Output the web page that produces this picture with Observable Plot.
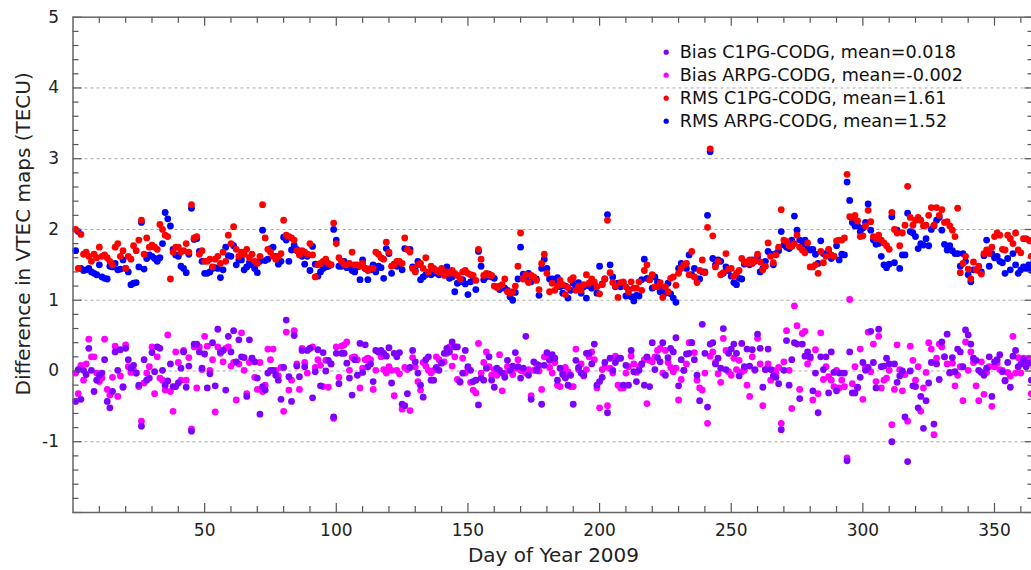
<!DOCTYPE html>
<html><head><meta charset="utf-8">
<script src="https://cdn.jsdelivr.net/npm/d3@7"></script>
<script src="https://cdn.jsdelivr.net/npm/@observablehq/plot@0.6"></script>
<style>
html,body{margin:0;padding:0;background:#fff;overflow:hidden;}
#chart svg{display:block;}
</style></head><body><div id="chart"></div>
<script>
// Day of year 1..365
const days = d3.range(1, 366);

const biasC1PG = [
-0.43,0.02,-0.40,0.01,-0.05,0.32,0.01,-0.29,-0.13,-0.06,
-0.03,0.16,-0.43,-0.52,-0.29,0.27,0.01,0.30,-0.23,0.32,
0.16,0.04,0.08,-0.03,-0.20,-0.78,0.16,-0.13,-0.10,0.26,
-0.01,0.34,0.32,0.01,-0.20,-0.14,0.10,-0.22,-0.22,-0.17,
0.04,0.27,-0.23,0.07,-0.85,0.38,0.38,0.27,0.04,0.24,
-0.24,-0.04,0.40,-0.21,0.59,0.27,0.29,-0.27,0.49,0.27,
0.57,0.13,0.44,0.20,0.19,-0.36,0.44,0.18,0.13,-0.10,
-0.61,-0.22,-0.27,-0.03,0.01,0.01,-0.06,-0.13,-0.40,0.05,
0.72,-0.08,-0.43,0.50,0.07,-0.08,0.29,0.06,0.29,0.32,
-0.38,-0.01,0.30,-0.21,0.26,0.00,0.15,0.10,-0.65,0.25,
-0.18,0.25,0.25,0.11,-0.10,-0.34,0.16,-0.06,0.39,-0.02,
0.37,0.06,0.10,-0.15,0.29,0.27,0.29,0.25,0.21,0.33,
-0.17,0.25,0.20,0.26,-0.47,-0.49,-0.32,0.05,0.29,0.13,
-0.03,-0.20,-0.37,0.16,0.20,-0.13,-0.13,0.05,0.01,0.11,
0.25,0.32,0.27,0.41,0.34,0.34,-0.15,-0.03,0.29,0.06,
0.01,-0.15,-0.13,-0.48,-0.10,-0.13,0.04,0.20,-0.13,-0.23,
0.04,0.01,-0.03,-0.09,0.15,0.01,0.07,0.26,0.06,-0.10,
0.04,0.49,-0.06,-0.40,0.13,0.01,0.08,-0.47,0.08,0.26,
0.15,0.23,0.18,-0.13,0.04,-0.05,-0.10,-0.20,-0.06,-0.47,
0.15,0.05,-0.03,-0.06,0.25,0.25,0.10,0.38,-0.20,-0.15,
-0.09,0.12,-0.59,0.18,0.01,0.12,0.18,0.18,-0.20,0.08,
-0.20,0.29,-0.01,-0.15,0.01,0.10,-0.20,0.20,-0.22,0.40,
0.02,0.19,0.13,0.40,-0.06,0.19,0.32,0.27,0.47,-0.21,
0.16,0.01,0.24,0.25,0.40,0.16,-0.06,-0.42,0.66,0.25,
-0.51,0.38,0.40,0.10,0.18,0.04,0.60,0.02,0.25,0.31,
0.38,0.25,-0.07,0.39,0.06,0.31,0.07,0.30,0.02,0.52,
0.32,-0.23,0.02,0.31,0.02,-0.07,-0.09,-0.18,-0.83,0.01,
0.43,-0.20,0.16,0.40,0.38,-0.39,0.38,0.21,0.27,0.20,
-0.28,-0.03,-0.59,0.20,0.02,0.20,-0.31,0.27,-0.02,-0.28,
-0.03,-0.03,-0.03,-1.27,0.27,-0.31,-0.31,-0.23,-0.09,0.12,
0.01,0.05,0.56,0.12,-0.24,0.59,0.06,0.07,0.18,0.10,
-1.00,0.10,-0.16,-0.07,0.00,-0.65,-1.28,0.00,-0.21,-0.22,
-0.52,-0.36,-0.81,-0.42,-0.17,0.12,-0.75,0.10,-0.12,0.41,
0.20,0.52,-0.02,0.19,-0.01,0.31,0.27,0.06,0.58,0.51,
0.38,0.18,0.15,0.01,-0.02,-0.06,0.04,0.20,-0.36,0.13,
0.16,0.23,-0.01,-0.14,0.12,-0.23,0.21,0.29,0.06,0.10,
0.16,0.06,0.11,-0.13,0.05];

const biasARPG = [
-0.03,-0.32,0.08,-0.13,0.10,0.45,0.20,0.20,-0.03,-0.15,
-0.10,0.45,-0.26,-0.34,-0.09,0.35,-0.36,-0.07,-0.22,0.37,
0.06,-0.02,0.01,-0.03,-0.22,-0.71,-0.17,-0.03,0.06,0.34,
-0.32,0.20,-0.10,-0.13,-0.27,0.51,-0.29,-0.57,0.27,0.12,
-0.13,0.29,-0.13,0.19,-0.82,0.34,-0.24,0.34,0.02,0.49,
0.35,0.01,0.16,-0.58,0.34,0.25,0.13,0.32,0.34,0.07,
0.12,-0.41,0.10,0.54,0.01,-0.32,0.12,0.18,-0.09,-0.26,
0.12,-0.29,-0.20,0.31,0.16,0.31,0.01,-0.07,0.05,-0.57,
0.55,-0.27,-0.13,0.57,0.10,-0.26,0.32,0.12,-0.03,0.32,
0.34,0.05,0.16,0.08,-0.22,0.15,-0.23,0.10,-0.67,0.34,
-0.09,0.35,0.37,0.41,0.01,0.19,0.20,0.16,-0.24,0.04,
0.16,0.18,0.16,-0.26,0.01,0.27,0.20,0.02,-0.03,0.06,
0.01,-0.35,0.01,-0.04,-0.54,0.05,0.02,-0.56,0.19,0.06,
-0.15,-0.27,0.12,0.07,0.01,-0.03,0.01,0.20,0.16,0.12,
0.13,0.25,0.34,0.07,0.20,-0.12,-0.16,0.18,-0.03,0.04,
-0.16,-0.27,-0.31,0.39,-0.03,0.12,0.27,0.06,-0.06,0.02,
-0.06,0.23,-0.28,-0.03,0.06,0.01,-0.05,0.04,0.16,0.01,
0.00,-0.03,0.02,-0.35,0.01,0.10,0.00,-0.26,0.20,0.20,
0.05,-0.03,0.12,-0.20,-0.22,-0.02,0.05,-0.01,-0.22,-0.22,
0.31,0.02,0.10,-0.07,0.02,0.20,0.27,0.16,-0.24,-0.52,
0.02,0.05,-0.49,0.04,-0.03,0.21,-0.20,-0.24,-0.24,-0.03,
0.06,0.21,0.10,-0.02,0.06,0.09,0.16,-0.46,0.15,0.13,
0.20,0.29,0.32,-0.03,0.29,0.12,0.05,-0.01,0.04,-0.41,
-0.12,0.01,0.10,0.40,0.40,0.26,-0.13,-0.24,-0.27,-0.03,
-0.74,0.21,0.27,0.12,-0.04,-0.16,0.46,0.29,-0.01,-0.06,
0.18,0.02,0.15,-0.01,0.01,-0.20,-0.36,0.20,0.01,0.46,
0.10,-0.49,0.02,0.10,-0.13,0.01,-0.03,0.05,-0.74,0.13,
0.57,0.01,-0.53,0.92,0.64,-0.26,0.53,0.56,0.10,0.18,
-0.41,0.30,-0.32,0.54,-0.12,0.06,-0.08,-0.13,-0.22,0.01,
-0.24,-0.13,-0.22,-1.23,1.01,-0.18,0.06,-0.24,0.31,-0.40,
0.05,0.55,-0.01,0.38,-0.15,0.49,-0.24,-0.13,-0.10,0.01,
-0.76,-0.26,0.37,0.02,-0.28,-0.05,-0.71,0.35,0.15,-0.13,
0.06,-0.57,-0.24,-0.02,0.40,0.31,-0.90,0.18,0.38,0.34,
0.20,0.10,-0.03,0.11,-0.21,-0.06,0.06,-0.42,0.41,0.01,
0.27,0.12,-0.21,-0.42,0.13,-0.33,-0.02,0.06,-0.50,0.06,
0.11,0.02,0.01,-0.13,-0.02,-0.07,0.49,-0.03,0.19,-0.03,
0.18,0.13,0.18,-0.32,0.10];

const rmsC1PG = [
2.00,1.45,1.93,1.65,1.68,1.62,1.55,1.65,1.60,1.75,
1.62,1.64,1.60,1.55,1.50,1.75,1.80,1.62,1.70,1.45,
1.62,1.58,1.77,1.70,1.85,2.13,1.65,1.88,1.75,1.78,
1.75,1.72,2.07,2.00,1.92,1.90,1.30,1.68,1.75,1.75,
1.68,1.70,1.80,1.68,2.35,1.88,1.90,1.65,1.70,1.55,
1.55,1.58,1.47,1.58,1.62,1.52,1.68,1.55,1.92,1.80,
2.04,1.72,1.62,1.68,1.65,1.72,1.60,1.65,1.55,1.52,
1.62,2.35,1.88,1.72,1.68,1.62,1.58,1.62,1.66,2.13,
1.92,1.90,1.88,1.85,1.70,1.64,1.70,1.68,1.65,1.80,
1.64,1.33,1.50,1.52,1.55,1.58,1.52,1.50,2.09,1.80,
1.60,1.55,1.50,1.50,1.52,1.68,1.50,1.50,1.48,1.52,
1.45,1.42,1.45,1.45,1.68,1.65,1.60,1.58,1.82,1.68,
1.48,1.50,1.55,1.55,1.52,1.88,1.72,1.68,1.45,1.40,
1.50,1.52,1.45,1.60,1.40,1.48,1.45,1.42,1.40,1.45,
1.35,1.40,1.38,1.42,1.38,1.35,1.30,1.40,1.42,1.38,
1.36,1.35,1.28,1.72,1.58,1.35,1.38,1.36,1.35,1.20,
1.18,1.20,1.22,1.30,1.12,1.10,1.12,1.20,1.48,1.95,
1.30,1.36,1.25,1.35,1.33,1.28,1.15,1.52,1.65,1.38,
1.12,1.24,1.14,1.20,1.28,1.22,1.08,1.18,1.29,1.32,
1.14,1.20,1.14,1.22,1.36,1.24,1.30,1.26,1.19,1.09,
1.22,1.30,2.13,1.39,1.25,1.20,1.04,1.25,1.26,1.19,
1.12,1.26,1.17,1.17,1.26,1.14,1.42,1.50,1.29,1.36,
1.19,1.19,1.25,1.04,1.19,1.12,1.31,1.33,1.21,1.38,
1.45,1.50,1.52,1.36,1.69,1.33,1.25,1.42,1.57,1.39,
2.03,3.14,1.91,1.47,1.55,1.36,1.39,1.66,1.44,1.45,
1.34,1.38,1.42,1.59,1.54,1.52,1.57,1.52,1.57,1.65,
1.54,1.43,1.48,1.81,1.62,1.53,1.64,1.75,2.28,1.85,
1.83,1.77,1.76,1.80,1.92,1.75,1.71,1.67,1.81,1.47,
1.47,1.50,1.38,1.69,1.53,1.62,1.72,1.64,1.62,1.84,
1.85,1.85,1.88,2.78,2.18,2.17,2.20,2.12,1.90,1.91,
2.05,2.27,2.11,1.90,1.87,1.92,1.85,1.81,1.77,1.72,
2.24,2.00,1.95,1.77,1.95,2.06,2.61,2.17,2.06,2.13,
2.17,2.13,2.05,2.06,2.20,2.31,2.06,2.31,2.20,2.28,
2.10,2.11,2.05,1.99,1.90,2.30,1.39,1.52,1.62,1.44,
1.30,1.54,1.43,1.48,1.37,1.66,1.71,1.66,1.75,1.90,
1.95,1.92,1.72,1.71,1.92,1.87,1.80,1.95,1.71,1.67,
1.87,1.87,1.85,1.62,1.80];

const rmsARPG = [
1.70,1.97,1.45,1.42,1.43,1.45,1.40,1.38,1.36,1.50,
1.33,1.31,1.30,1.48,1.47,1.52,1.43,1.44,1.57,1.45,
1.40,1.22,1.24,1.25,1.47,2.10,1.44,1.59,1.64,1.62,
1.59,1.55,1.60,1.80,2.24,2.15,2.05,1.72,1.64,1.62,
1.48,1.45,1.39,1.65,2.30,1.86,1.87,1.69,1.55,1.38,
1.38,1.40,1.45,1.46,1.45,1.32,1.43,1.75,1.63,1.62,
1.77,1.50,1.57,1.57,1.43,1.47,1.53,1.50,1.45,1.39,
1.55,1.99,1.56,1.58,1.73,1.75,1.62,1.51,1.55,1.89,
1.85,1.55,1.71,1.78,1.72,1.66,1.62,1.51,1.62,1.42,
1.76,1.51,1.34,1.40,1.45,1.47,1.48,1.50,2.00,1.85,
1.48,1.48,1.55,1.46,1.50,1.42,1.40,1.47,1.29,1.57,
1.45,1.29,1.43,1.50,1.40,1.48,1.46,1.31,1.73,1.66,
1.38,1.51,1.48,1.50,1.43,1.73,1.72,1.72,1.47,1.42,
1.55,1.29,1.33,1.36,1.38,1.36,1.39,1.38,1.36,1.42,
1.40,1.47,1.31,1.33,1.12,1.24,1.26,1.29,1.23,1.08,
1.26,1.29,1.15,1.69,1.48,1.29,1.33,1.37,1.33,1.31,
1.19,1.15,1.19,1.17,1.14,1.05,1.00,1.11,1.30,1.75,
1.37,1.30,1.38,1.26,1.31,1.30,1.07,1.45,1.58,1.45,
1.30,1.30,1.26,1.32,1.19,1.10,1.20,1.03,1.14,1.24,
1.19,1.25,1.10,1.19,1.03,1.20,1.17,1.22,1.10,1.48,
1.23,1.30,2.21,1.50,1.33,1.19,1.24,1.19,1.24,1.06,
1.15,1.05,0.99,1.07,1.06,1.29,1.58,1.31,1.29,1.17,
1.33,1.26,1.12,1.17,1.10,1.24,1.09,1.03,0.97,1.45,
1.52,1.50,1.45,1.64,1.36,1.45,1.30,1.30,1.40,1.40,
2.20,3.10,1.59,1.50,1.57,1.55,1.38,1.47,1.42,1.34,
1.25,1.22,1.31,1.30,1.51,1.52,1.50,1.57,1.55,1.61,
1.40,1.45,1.55,1.69,1.65,1.50,1.66,1.70,1.97,1.78,
1.75,1.73,1.85,2.19,1.99,1.85,1.77,1.85,1.73,1.71,
1.72,1.65,1.52,1.84,1.66,1.63,1.70,1.59,1.62,1.77,
1.57,1.65,1.64,2.67,2.41,2.10,2.05,2.05,1.97,2.02,
2.10,2.36,1.99,1.85,1.79,1.80,1.62,1.50,1.46,1.51,
2.18,1.53,1.99,1.45,1.64,1.64,2.23,1.97,1.95,1.90,
1.73,1.80,1.78,1.87,1.77,2.00,2.05,2.13,2.17,1.99,
1.79,1.71,1.77,1.70,1.66,1.66,1.48,1.66,1.55,1.36,
1.26,1.43,1.43,1.42,1.40,1.63,1.85,1.48,1.66,1.60,
1.62,1.55,1.53,1.38,1.59,1.43,1.66,1.50,1.38,1.43,
1.47,1.45,1.50,1.42,1.55];

const seriesNames = ["Bias C1PG-CODG, mean=0.018","Bias ARPG-CODG, mean=-0.002","RMS C1PG-CODG, mean=1.61","RMS ARPG-CODG, mean=1.52"];
const seriesColors = ["#7f00ff","#ff00ff","#ff0000","#0000ff"];
const seriesValues = [biasC1PG, biasARPG, rmsC1PG, rmsARPG];

const xTickLabels = [50,100,150,200,250,300,350];
const yTickLabels = [-1,0,1,2,3,4,5];
const gridValues = [-1,0,1,2,3,4];
const xDomain = [0, 365];
const yDomain = [-2, 5];
const xTitle = "Day of Year 2009";
const yTitle = "Difference in VTEC maps (TECU)";

// layout
const W = 1031, H = 570, mL = 72.5, mR = -2.5, mT = 16.7, mB = 58;
const kX = (W - mL - mR) / (xDomain[1] - xDomain[0]);
const kY = (H - mT - mB) / (yDomain[1] - yDomain[0]);

const tables = seriesValues.map((vals, s) => vals.map((v, i) => ({day: days[i], value: v, s})));

const xMinor = d3.range(10, 365, 10).filter(d => d % 50 !== 0);
const yAll = d3.range(-20, 51, 2).map(d => d / 10);
const yMinor = yAll.filter(d => !Number.isInteger(d));
const yMajor = yAll.filter(d => Number.isInteger(d));

const tickStyle = {stroke: "#555", strokeWidth: 1.2};
const majorLen = 9, minorLen = 6;

// drawing order: ARPG before C1PG (C1PG on top)
const drawOrder = [1, 3, 0, 2];

const legendMarks = seriesNames.flatMap((name, i) => [
  Plot.dot([name], {frameAnchor: "top-left", dx: 593.2, dy: 35 + i * 23, r: 2.6, fill: seriesColors[i], stroke: null}),
  Plot.text([name], {frameAnchor: "top-left", dx: 606.8, dy: 35 + i * 23, text: d => d, textAnchor: "start", lineAnchor: "middle", fontSize: 17.6, fill: "#111"})
]);

const chart = Plot.plot({
  width: W, height: H,
  marginLeft: mL, marginRight: mR, marginTop: mT, marginBottom: mB,
  style: {fontFamily: "DejaVu Sans, sans-serif", fontSize: "17px", color: "#222", background: "#fff"},
  x: {domain: xDomain},
  y: {domain: yDomain},
  marks: [
    Plot.ruleY(gridValues, {stroke: "#aaa", strokeWidth: 1, strokeDasharray: "3,3"}),
    ...drawOrder.map(s => Plot.dot(tables[s], {x: "day", y: "value", r: 3.4, fill: seriesColors[s], stroke: null})),
    // inward ticks: bottom / top
    Plot.ruleX(xTickLabels, {y1: yDomain[0], y2: yDomain[0] + majorLen / kY, ...tickStyle}),
    Plot.ruleX(xMinor, {y1: yDomain[0], y2: yDomain[0] + minorLen / kY, ...tickStyle}),
    Plot.ruleX(xTickLabels, {y1: yDomain[1], y2: yDomain[1] - majorLen / kY, ...tickStyle}),
    Plot.ruleX(xMinor, {y1: yDomain[1], y2: yDomain[1] - minorLen / kY, ...tickStyle}),
    // inward ticks: left / right
    Plot.ruleY(yMajor, {x1: xDomain[0], x2: xDomain[0] + majorLen / kX, ...tickStyle}),
    Plot.ruleY(yMinor, {x1: xDomain[0], x2: xDomain[0] + minorLen / kX, ...tickStyle}),
    Plot.ruleY(yMajor, {x1: xDomain[1], x2: xDomain[1] - majorLen / kX, ...tickStyle}),
    Plot.ruleY(yMinor, {x1: xDomain[1], x2: xDomain[1] - minorLen / kX, ...tickStyle}),
    Plot.frame({stroke: "#666", strokeWidth: 1.5}),
    Plot.axisX(xTickLabels, {tickSize: 0, tickPadding: 11, fontSize: 17, fill: "#222", label: null, tickFormat: d => String(d)}),
    Plot.axisY(yTickLabels, {tickSize: 0, tickPadding: 14, fontSize: 17, fill: "#222", label: null, tickFormat: d => String(d)}),
    Plot.text([xTitle], {frameAnchor: "bottom", dy: 43, text: d => d, textAnchor: "middle", lineAnchor: "middle", fontSize: 20, fill: "#222"}),
    Plot.text([yTitle], {frameAnchor: "left", dx: -49, dy: -31, rotate: -90, text: d => d, textAnchor: "middle", lineAnchor: "middle", fontSize: 20, fill: "#222"}),
    ...legendMarks
  ]
});
document.getElementById("chart").appendChild(chart);
</script>
</body></html>
